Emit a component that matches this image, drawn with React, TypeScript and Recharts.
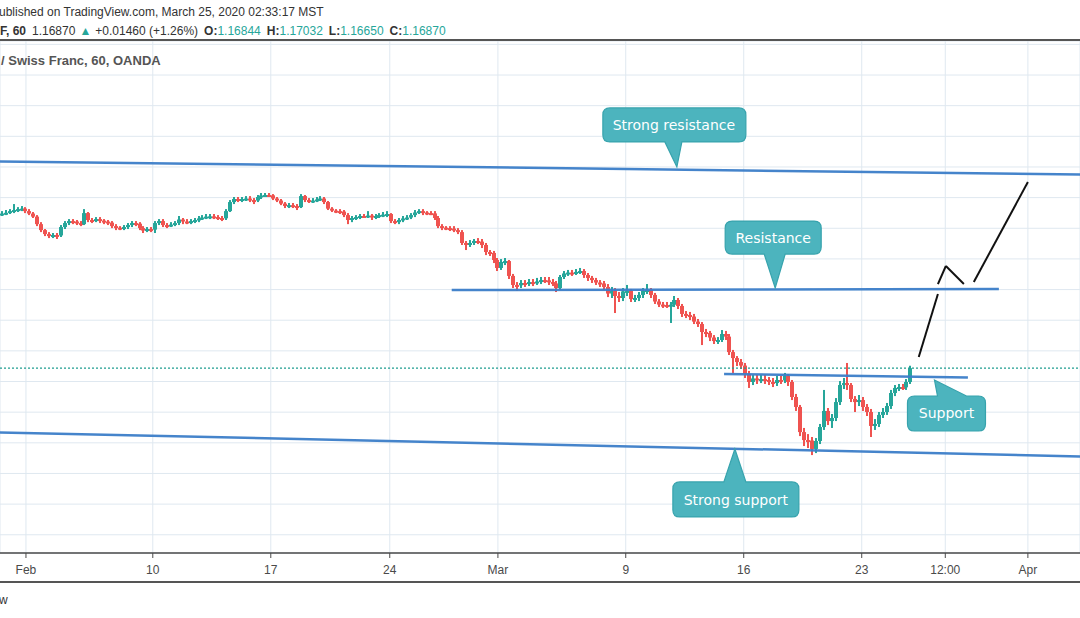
import React from 'react';
import {
  ComposedChart,
  Bar,
  XAxis,
  YAxis,
  CartesianGrid,
  ReferenceLine,
  ReferenceDot,
} from 'recharts';

// 4-hour candles, time axis in trading hours from the "Feb" tick
const firstBar = -28;
const barStep = 4;
const firstOpen = 1.2686;

const closes = [
  1.2693, 1.2696, 1.2701, 1.2712, 1.2719, 1.2725, 1.2728, 1.2712, 1.2696, 1.2676,
  1.2627, 1.2588, 1.2562, 1.2549, 1.2556, 1.2553, 1.2608, 1.2634, 1.2647, 1.2644,
  1.2634, 1.2627, 1.2699, 1.2654, 1.2651, 1.266, 1.265, 1.2644, 1.2637, 1.2614,
  1.2604, 1.2601, 1.2608, 1.2621, 1.2634, 1.263, 1.2601, 1.2585, 1.2595, 1.2591,
  1.2634, 1.2647, 1.2621, 1.2618, 1.2624, 1.2634, 1.2657, 1.2644, 1.2642, 1.2647,
  1.2654, 1.2664, 1.267, 1.2676, 1.2678, 1.2673, 1.2667, 1.2665, 1.2712, 1.2771,
  1.2791, 1.2784, 1.2791, 1.2794, 1.2784, 1.2781, 1.2804, 1.2814, 1.2817, 1.2815,
  1.2794, 1.2781, 1.2761, 1.2745, 1.2751, 1.2745, 1.2738, 1.281, 1.2784, 1.2778,
  1.2781, 1.2788, 1.2794, 1.2771, 1.2728, 1.2715, 1.2712, 1.2709, 1.2686, 1.2654,
  1.2667, 1.2673, 1.268, 1.2678, 1.2683, 1.267, 1.268, 1.2686, 1.2689, 1.2693,
  1.2647, 1.264, 1.2654, 1.2664, 1.267, 1.2686, 1.2703, 1.2712, 1.2703, 1.2699,
  1.2697, 1.2667, 1.2614, 1.2604, 1.2601, 1.2598, 1.2588, 1.2575, 1.2504, 1.2491,
  1.2504, 1.2517, 1.2513, 1.2491, 1.2445, 1.2439, 1.2393, 1.2341, 1.238, 1.2386,
  1.2289, 1.223, 1.2228, 1.2243, 1.224, 1.2249, 1.2243, 1.2253, 1.2262, 1.226,
  1.2249, 1.224, 1.221, 1.2282, 1.2305, 1.2311, 1.2308, 1.2315, 1.2321, 1.2295,
  1.2276, 1.2262, 1.2246, 1.224, 1.2217, 1.2174, 1.2191, 1.2158, 1.2145, 1.2188,
  1.2191, 1.2138, 1.2145, 1.2165, 1.2191, 1.2197, 1.2165, 1.2122, 1.2102, 1.2099,
  1.2097, 1.2101, 1.2132, 1.2093, 1.2041, 1.2034, 1.2024, 1.1991, 1.1975, 1.1923,
  1.1917, 1.1887, 1.1864, 1.1871, 1.191, 1.1893, 1.1792, 1.1753, 1.1727, 1.1704,
  1.1649, 1.1597, 1.162, 1.161, 1.1616, 1.161, 1.1597, 1.159, 1.161, 1.1607,
  1.1636, 1.1597, 1.1499, 1.1434, 1.127, 1.1218, 1.1215, 1.116, 1.1212, 1.1303,
  1.1408, 1.1342, 1.1362, 1.1466, 1.1577, 1.159, 1.1577, 1.1486, 1.1466, 1.1479,
  1.1434, 1.1401, 1.131, 1.1323, 1.1382, 1.1401, 1.144, 1.1525, 1.1558, 1.1564,
  1.1562, 1.1597, 1.1687,
];

const highs = [
  1.2706, 1.2712, 1.2719, 1.2725, 1.2758, 1.2738, 1.2745, 1.2738, 1.2725, 1.2706,
  1.2686, 1.264, 1.2595, 1.2575, 1.2569, 1.2569, 1.2621, 1.2647, 1.266, 1.266,
  1.2654, 1.2647, 1.2725, 1.2706, 1.2667, 1.2673, 1.2673, 1.266, 1.2654, 1.2647,
  1.2627, 1.2614, 1.2621, 1.2634, 1.2647, 1.2647, 1.264, 1.2614, 1.2608, 1.2608,
  1.2647, 1.266, 1.266, 1.2634, 1.264, 1.2647, 1.268, 1.2667, 1.266, 1.266,
  1.2667, 1.268, 1.2686, 1.2693, 1.2693, 1.2693, 1.2686, 1.268, 1.2725, 1.2784,
  1.2804, 1.2804, 1.2804, 1.281, 1.281, 1.2797, 1.2817, 1.283, 1.283, 1.283,
  1.2823, 1.2804, 1.2791, 1.2771, 1.2765, 1.2765, 1.2758, 1.2823, 1.2817, 1.2797,
  1.2797, 1.2804, 1.281, 1.2804, 1.2778, 1.2738, 1.2725, 1.2725, 1.2719, 1.2699,
  1.268, 1.2686, 1.2693, 1.2693, 1.2712, 1.2693, 1.2693, 1.2699, 1.2706, 1.2712,
  1.2699, 1.266, 1.2667, 1.268, 1.2686, 1.2699, 1.2719, 1.2725, 1.2725, 1.2712,
  1.2712, 1.2712, 1.268, 1.2627, 1.2614, 1.2614, 1.2614, 1.2601, 1.2588, 1.2517,
  1.2523, 1.253, 1.2536, 1.253, 1.2504, 1.2458, 1.2452, 1.2406, 1.2399, 1.2406,
  1.2393, 1.2302, 1.2249, 1.2262, 1.2262, 1.2269, 1.2269, 1.2276, 1.2282, 1.2282,
  1.2282, 1.2269, 1.2256, 1.2295, 1.2321, 1.2328, 1.2328, 1.2334, 1.2341, 1.2334,
  1.2308, 1.2289, 1.2276, 1.2262, 1.2256, 1.2236, 1.2217, 1.221, 1.2184, 1.221,
  1.223, 1.2204, 1.2165, 1.2184, 1.221, 1.2236, 1.221, 1.2178, 1.2138, 1.2119,
  1.2119, 1.2119, 1.2158, 1.2145, 1.2106, 1.206, 1.2054, 1.2041, 1.2008, 1.1988,
  1.1943, 1.193, 1.1903, 1.189, 1.1936, 1.193, 1.191, 1.1806, 1.1766, 1.1747,
  1.1721, 1.1669, 1.1642, 1.1642, 1.1642, 1.1642, 1.1629, 1.1623, 1.1636, 1.1636,
  1.1656, 1.1649, 1.161, 1.1519, 1.1447, 1.1297, 1.1257, 1.1238, 1.1231, 1.1323,
  1.1545, 1.1427, 1.1388, 1.1492, 1.1603, 1.1623, 1.1721, 1.159, 1.1505, 1.1512,
  1.1499, 1.1453, 1.1421, 1.1355, 1.1401, 1.1427, 1.146, 1.1545, 1.1577, 1.1584,
  1.1584, 1.1616, 1.1703,
];

const lows = [
  1.2673, 1.268, 1.2686, 1.2693, 1.2699, 1.2706, 1.2712, 1.2699, 1.2686, 1.2667,
  1.2614, 1.2575, 1.2549, 1.2536, 1.2536, 1.253, 1.2543, 1.2595, 1.2621, 1.2627,
  1.2621, 1.2614, 1.2621, 1.264, 1.2634, 1.264, 1.2634, 1.2627, 1.2621, 1.2601,
  1.2588, 1.2588, 1.2588, 1.2595, 1.2608, 1.2614, 1.2588, 1.2569, 1.2575, 1.2575,
  1.2569, 1.2621, 1.2608, 1.2601, 1.2608, 1.2614, 1.2621, 1.2627, 1.2627, 1.2627,
  1.2634, 1.264, 1.2654, 1.266, 1.266, 1.266, 1.2654, 1.2647, 1.2654, 1.2706,
  1.2758, 1.2771, 1.2771, 1.2778, 1.2771, 1.2758, 1.2771, 1.2791, 1.2804, 1.2804,
  1.2784, 1.2771, 1.2751, 1.2732, 1.2732, 1.2732, 1.2719, 1.2732, 1.2771, 1.2765,
  1.2765, 1.2771, 1.2778, 1.2758, 1.2719, 1.2706, 1.2699, 1.2693, 1.2673, 1.2627,
  1.264, 1.2654, 1.266, 1.2667, 1.2667, 1.2654, 1.266, 1.2667, 1.2673, 1.2673,
  1.2634, 1.2627, 1.2627, 1.264, 1.2654, 1.266, 1.2673, 1.2693, 1.2686, 1.2686,
  1.2686, 1.2654, 1.2601, 1.2588, 1.2588, 1.2582, 1.2575, 1.2562, 1.2491, 1.2458,
  1.2478, 1.2491, 1.2497, 1.2471, 1.2425, 1.2419, 1.2373, 1.2321, 1.2328, 1.236,
  1.2269, 1.221, 1.2191, 1.221, 1.2217, 1.2223, 1.2223, 1.223, 1.2236, 1.2243,
  1.223, 1.2223, 1.2184, 1.2197, 1.2269, 1.2289, 1.2289, 1.2295, 1.2302, 1.2276,
  1.2256, 1.2243, 1.223, 1.2217, 1.2197, 1.2151, 1.2145, 1.2047, 1.2119, 1.2125,
  1.2158, 1.2119, 1.2119, 1.2125, 1.2145, 1.2171, 1.2145, 1.2106, 1.2086, 1.208,
  1.208, 1.1982, 1.2086, 1.2073, 1.2021, 1.2014, 1.2001, 1.1975, 1.1956, 1.1838,
  1.189, 1.1864, 1.1845, 1.1845, 1.1858, 1.1871, 1.1773, 1.1656, 1.1701, 1.1682,
  1.1623, 1.1558, 1.1577, 1.1584, 1.159, 1.1584, 1.1577, 1.1564, 1.1571, 1.1584,
  1.159, 1.1571, 1.1479, 1.1408, 1.1244, 1.1179, 1.1166, 1.112, 1.1133, 1.1192,
  1.1284, 1.1316, 1.1297, 1.1342, 1.1447, 1.1551, 1.1545, 1.1466, 1.1401, 1.144,
  1.1408, 1.1375, 1.1238, 1.1284, 1.1303, 1.1362, 1.1382, 1.1421, 1.1505, 1.1538,
  1.1545, 1.1545, 1.1584,
];

const xTicks = [0, 129, 249, 370, 480, 610, 730, 850, 935, 1019];
const xTickLabels = ['Feb', '10', '17', '24', 'Mar', '9', '16', '23', '12:00', 'Apr'];
const priceTicks = [
  1.06, 1.08, 1.1, 1.12, 1.14, 1.16, 1.18, 1.2, 1.22, 1.24, 1.26, 1.28, 1.3,
  1.32, 1.34, 1.36, 1.38,
];
const lastClose = 1.1687;

// trend lines: [time, price] pairs
const channelLines = [
  [[-26.4, 1.3036], [1072, 1.2951]],
  [[-26.4, 1.1268], [1072, 1.1111]],
];
const levelLines = [
  [[433, 1.2197], [989.5, 1.2204]],
  [[710, 1.1649], [958, 1.1627]],
];
const projection = [
  [[908, 1.176], [927.5, 1.2171]],
  [[927.5, 1.2236], [935.6, 1.2354]],
  [[935.6, 1.2354], [953.9, 1.2236]],
  [[964, 1.2249], [1019, 1.2902]],
];

const callouts = [
  { text: 'Strong resistance', t: 662, price: 1.3 },
  { text: 'Resistance', t: 762, price: 1.221 },
  { text: 'Support', t: 924, price: 1.161 },
  { text: 'Strong support', t: 721, price: 1.116 },
];

const headerLine1 = 'ublished on TradingView.com, March 25, 2020 02:33:17 MST';
const symbolTail = 'F, 60';
const lastPriceText = '1.16870';
const changeText = '+0.01460 (+1.26%)';
const ohlcLabels = ['O', 'H', 'L', 'C'];
const ohlcValues = ['1.16844', '1.17032', '1.16650', '1.16870'];
const paneTitle = '/ Swiss Franc, 60, OANDA';
const footerText = 'w';

const candles = closes.map((close, k) => ({
  t: firstBar + k * barStep,
  open: k === 0 ? firstOpen : closes[k - 1],
  close,
  high: highs[k],
  low: lows[k],
}));

const UP = '#26a69a';
const DOWN = '#ef5350';
const BLUE = '#3b7dc8';
const TEAL_BOX = '#4cb4be';

// bubble geometry relative to the pointer tip
const bubbleBoxes = [
  { left: -74, right: 69, top: -59, bottom: -25, baseL: -12, baseR: 5, side: 'bottom', tx: -3, ty: -42 },
  { left: -50, right: 46, top: -67, bottom: -34, baseL: -11, baseR: 10, side: 'bottom', tx: -2, ty: -50 },
  { left: -27, right: 51, top: 16, bottom: 51, baseL: 3, baseR: 32, side: 'top', tx: 12, ty: 33 },
  { left: -62, right: 64, top: 33, bottom: 68, baseL: -11, baseR: 11, side: 'top', tx: 1, ty: 51 },
];

const Candle = (props: any) => {
  const { x, y, width, height, payload } = props;
  if (!payload) return null;
  const { open, close, high, low } = payload;
  const color = close >= open ? UP : DOWN;
  const h = Math.abs(height);
  const top = Math.min(y, y + height);
  const k = high === low ? 0 : h / (high - low);
  const bTop = top + (high - Math.max(open, close)) * k;
  const bBot = top + (high - Math.min(open, close)) * k;
  const cx = Math.round(x + width / 2);
  return (
    <g>
      <rect x={cx - 1} y={top} width={2} height={Math.max(1, h)} fill={color} />
      <rect x={cx - 2} y={bTop} width={4} height={Math.max(2, bBot - bTop)} fill={color} />
    </g>
  );
};

function bubblePath(b: any, cx: number, cy: number) {
  const L = cx + b.left;
  const R = cx + b.right;
  const T = cy + b.top;
  const B = cy + b.bottom;
  const r = 7;
  const bl = cx + b.baseL;
  const br = cx + b.baseR;
  if (b.side === 'bottom') {
    return `M${L + r},${T} H${R - r} Q${R},${T} ${R},${T + r} V${B - r} Q${R},${B} ${R - r},${B} H${br} L${cx},${cy} L${bl},${B} H${L + r} Q${L},${B} ${L},${B - r} V${T + r} Q${L},${T} ${L + r},${T} Z`;
  }
  return `M${L + r},${T} H${bl} L${cx},${cy} L${br},${T} H${R - r} Q${R},${T} ${R},${T + r} V${B - r} Q${R},${B} ${R - r},${B} H${L + r} Q${L},${B} ${L},${B - r} V${T + r} Q${L},${T} ${L + r},${T} Z`;
}

const Bubble = (props: any) => {
  const { cx, cy, text, box } = props;
  if (cx == null || cy == null) return null;
  return (
    <g>
      <path d={bubblePath(box, cx, cy)} fill={TEAL_BOX} stroke='#37a3ad' strokeWidth={1.2} />
      <text
        x={cx + box.tx}
        y={cy + box.ty}
        textAnchor='middle'
        dominantBaseline='central'
        fill='#ffffff'
        fontSize={14}
        fontFamily='"DejaVu Sans", Verdana, sans-serif'
      >
        {text}
      </text>
    </g>
  );
};

const fmtTick = (v: number) => {
  const i = xTicks.indexOf(v);
  return i >= 0 ? xTickLabels[i] : '';
};

export default function App() {
  const font = '"Liberation Sans", Arial, sans-serif';
  return (
    <div
      style={{
        position: 'absolute',
        left: 0,
        top: 0,
        width: 1080,
        height: 618,
        overflow: 'hidden',
        background: '#ffffff',
        fontFamily: font,
      }}
    >
      <ComposedChart
        width={1080}
        height={618}
        data={candles}
        margin={{ top: 41, right: 0, bottom: 37, left: 0 }}
      >
        <CartesianGrid stroke='#dfe8f0' strokeWidth={1} />
        <XAxis
          dataKey='t'
          type='number'
          domain={[-26.4, 1072]}
          allowDataOverflow
          ticks={xTicks}
          interval={0}
          tickFormatter={fmtTick}
          height={28}
          axisLine={{ stroke: '#4a4a4a', strokeWidth: 1.5 }}
          tickLine={{ stroke: '#4a4a4a' }}
          tickSize={5}
          tickMargin={7}
          tick={{ fontSize: 12, fill: '#4a4a4a', fontFamily: font }}
        />
        <YAxis
          type='number'
          domain={[1.0481, 1.3822]}
          allowDataOverflow
          ticks={priceTicks}
          interval={0}
          width={0}
          tick={{ fontSize: 1, fill: 'transparent' }}
          axisLine={false}
          tickLine={false}
        />
        <Bar
          dataKey={(d: any) => [d.low, d.high]}
          barSize={3}
          shape={(p: any) => <Candle {...p} />}
          isAnimationActive={false}
        />
        <ReferenceLine
          y={lastClose}
          stroke='#1f9d90'
          strokeDasharray='2 2'
          strokeWidth={1.2}
        />
        {channelLines.concat(levelLines).map((seg, i) => (
          <ReferenceLine
            key={'lv' + i}
            segment={[
              { x: seg[0][0], y: seg[0][1] },
              { x: seg[1][0], y: seg[1][1] },
            ]}
            stroke={BLUE}
            strokeWidth={2.5}
            strokeOpacity={0.95}
            ifOverflow='hidden'
          />
        ))}
        {projection.map((seg, i) => (
          <ReferenceLine
            key={'pj' + i}
            segment={[
              { x: seg[0][0], y: seg[0][1] },
              { x: seg[1][0], y: seg[1][1] },
            ]}
            stroke='#111111'
            strokeWidth={2}
            ifOverflow='hidden'
          />
        ))}
        {callouts.map((c, i) => (
          <ReferenceDot
            key={'co' + i}
            x={c.t}
            y={c.price}
            r={0}
            shape={(p: any) => <Bubble {...p} text={c.text} box={bubbleBoxes[i]} />}
          />
        ))}
      </ComposedChart>

      <div style={{ position: 'absolute', left: -1, top: 6, fontSize: 12, lineHeight: '12px', color: '#333', whiteSpace: 'nowrap' }}>
        {headerLine1}
      </div>
      <div style={{ position: 'absolute', left: 0, top: 25, fontSize: 12, lineHeight: '12px', color: '#333', whiteSpace: 'nowrap' }}>
        <b>{symbolTail}</b>
        <span style={{ marginLeft: 6 }}>{lastPriceText}</span>
        <span style={{ marginLeft: 4, color: UP }}>▲</span>
        <span style={{ marginLeft: 4 }}>{changeText}</span>
        {ohlcLabels.map((l, i) => (
          <span key={l} style={{ marginLeft: 6 }}>
            <b>{l}:</b>
            <span style={{ color: UP }}>{ohlcValues[i]}</span>
          </span>
        ))}
      </div>
      <div style={{ position: 'absolute', left: 0, top: 39, width: 1080, height: 2, background: '#555' }} />
      <div style={{ position: 'absolute', left: 1, top: 54, fontSize: 13, lineHeight: '13px', fontWeight: 'bold', color: '#555', whiteSpace: 'nowrap' }}>
        {paneTitle}
      </div>
      <div style={{ position: 'absolute', left: 0, top: 581, width: 1080, height: 2, background: '#555' }} />
      <div style={{ position: 'absolute', left: -1, top: 594, fontSize: 12, lineHeight: '12px', color: '#333' }}>
        {footerText}
      </div>
    </div>
  );
}
